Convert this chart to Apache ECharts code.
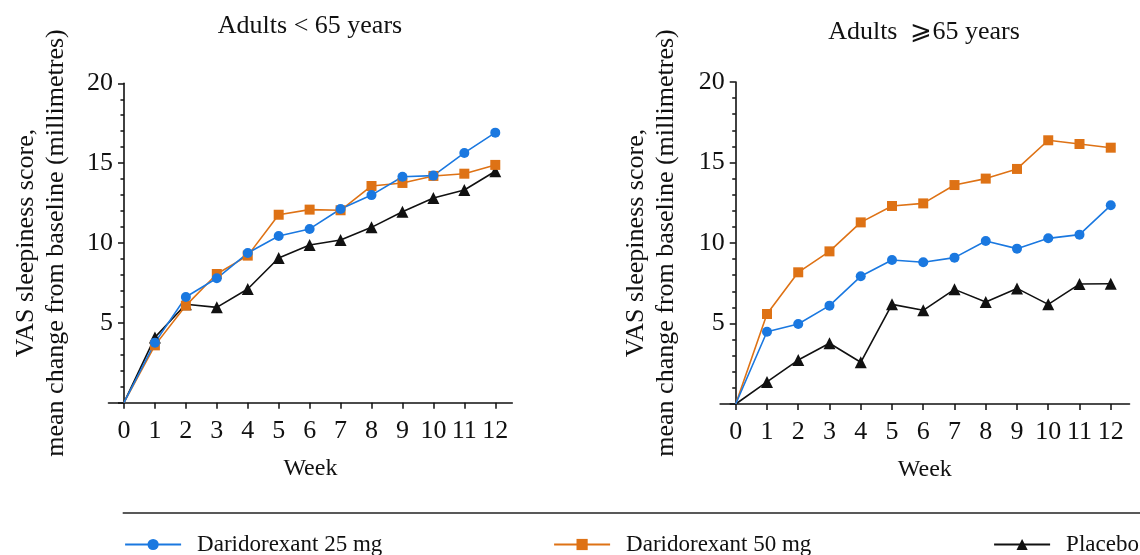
<!DOCTYPE html>
<html><head><meta charset="utf-8">
<script src="https://cdn.jsdelivr.net/npm/echarts@6/dist/echarts.min.js"></script>
<style>html,body{margin:0;padding:0;background:#fff}#c{width:1140px;height:555px}</style>
</head><body><div id="c"></div>
<script>
const weeks = [0,1,2,3,4,5,6,7,8,9,10,11,12];
const seriesNames = ['Daridorexant 25 mg','Daridorexant 50 mg','Placebo'];
const panelTitles = ['Adults < 65 years', 'Adults  \u2A7E65 years'];
const yAxisName = 'VAS sleepiness score,\nmean change from baseline (millimetres)';
const xAxisName = 'Week';
const under65_25mg = [0,3.76,6.62,7.79,9.37,10.44,10.88,12.13,13.0,14.15,14.22,15.64,16.91];
const under65_50mg = [0,3.59,6.08,8.06,9.21,11.77,12.09,12.05,13.57,13.76,14.2,14.34,14.89];
const under65_placebo = [0,4.09,6.16,5.97,7.12,9.06,9.87,10.19,10.98,11.96,12.82,13.32,14.49];
const over65_25mg = [0,4.49,4.97,6.11,7.93,8.94,8.8,9.09,10.12,9.65,10.29,10.52,12.34];
const over65_50mg = [0,5.59,8.18,9.48,11.28,12.3,12.46,13.6,14.0,14.6,16.38,16.15,15.92];
const over65_placebo = [0,1.37,2.73,3.77,2.59,6.19,5.82,7.12,6.34,7.18,6.19,7.45,7.47];

const FONT = '"Liberation Serif", "Times New Roman", serif';
const INK = '#111';
const colors = {'Daridorexant 25 mg':'#1a78e0','Daridorexant 50 mg':'#de7215','Placebo':'#111111'};
const symbols = {'Daridorexant 25 mg':['circle',10],'Daridorexant 50 mg':['rect',10],'Placebo':['triangle',12]};

function pts(vals){
  return weeks.map((w,i)=> i===0 ? {value:[w,vals[i]], symbol:'none'} : [w,vals[i]]);
}
function mkSeries(name, vals, idx){
  return {
    name, type:'line', xAxisIndex:idx, yAxisIndex:idx,
    data: pts(vals), symbol: symbols[name][0], symbolSize: symbols[name][1],
    showAllSymbol:true,
    itemStyle:{color:colors[name]},
    lineStyle:{color:colors[name], width:1.6},
    emphasis:{disabled:true}, animation:false
  };
}
function mkX(idx, max){
  return {
    type:'value', gridIndex:idx, min:-0.5, max:max,
    axisLine:{show:true, onZero:true, lineStyle:{color:INK, width:1.6}},
    axisTick:{show:true, customValues:weeks, length:6, lineStyle:{color:INK, width:1.5}},
    axisLabel:{customValues:weeks, fontSize:26, fontFamily:FONT, color:INK, margin:15},
    splitLine:{show:false},
    name:xAxisName, nameLocation:'middle', nameGap:54,
    nameTextStyle:{fontSize:24, fontFamily:FONT, color:INK}
  };
}
function mkY(idx, gap, margin){
  return {
    type:'value', gridIndex:idx, min:0, max:20, interval:5,
    axisLine:{show:true, onZero:true, lineStyle:{color:INK, width:1.6}},
    axisTick:{show:true, length:6, lineStyle:{color:INK, width:1.5}},
    minorTick:{show:true, splitNumber:5, length:3.5, lineStyle:{color:INK, width:1.5}},
    axisLabel:{showMinLabel:false, fontSize:26, fontFamily:FONT, color:INK, margin:margin},
    splitLine:{show:false}, minorSplitLine:{show:false},
    name:yAxisName, nameLocation:'middle', nameRotate:90, nameGap:gap,
    nameTextStyle:{fontSize:26, lineHeight:30, fontFamily:FONT, color:INK, align:'center'}
  };
}
function mkLegend(name, left){
  return {
    data:[name], left:left, top:533, padding:0, itemWidth:56, itemHeight:14,
    selectedMode:false, lineStyle:{width:2.2},
    textStyle:{fontSize:23, fontFamily:FONT, color:INK, padding:[0,0,0,11]}
  };
}

const option = {
  animation:false,
  backgroundColor:'#fff',
  grid:[
    {left:108.5, top:83.3, width:403.8, height:319.4},
    {left:720.1, top:82, width:409.4, height:322}
  ],
  xAxis:[mkX(0,12.55), mkX(1,12.6)],
  yAxis:[mkY(0,37,-4.5), mkY(1,39,-4.6)],
  legend:[mkLegend(seriesNames[0],124), mkLegend(seriesNames[1],553), mkLegend(seriesNames[2],993)],
  graphic:[
    {type:'text', x:310, y:26, style:{text:panelTitles[0], font:'26px '+FONT, fill:INK, align:'center', verticalAlign:'middle'}},
    {type:'text', x:924, y:32, style:{text:panelTitles[1], font:'26px '+FONT, fill:INK, align:'center', verticalAlign:'middle'}},
    {type:'line', shape:{x1:122.7, y1:513, x2:1140, y2:513}, style:{stroke:'#222', lineWidth:1.5}}
  ],
  series:[
    mkSeries(seriesNames[2], under65_placebo, 0),
    mkSeries(seriesNames[1], under65_50mg, 0),
    mkSeries(seriesNames[0], under65_25mg, 0),
    mkSeries(seriesNames[2], over65_placebo, 1),
    mkSeries(seriesNames[1], over65_50mg, 1),
    mkSeries(seriesNames[0], over65_25mg, 1)
  ]
};
const chart = echarts.init(document.getElementById('c'), null, {renderer:'canvas'});
chart.setOption(option);
</script>
</body></html>
